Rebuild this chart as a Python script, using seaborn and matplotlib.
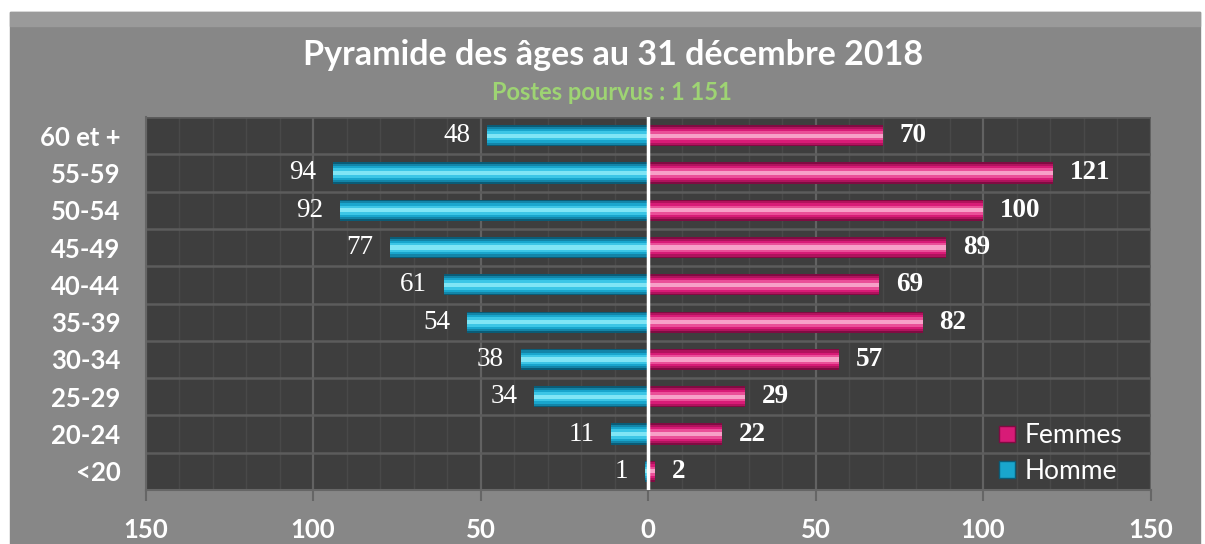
import matplotlib
matplotlib.use("Agg")
import matplotlib.pyplot as plt
from matplotlib.patches import Rectangle, Patch
from matplotlib.ticker import MultipleLocator, FixedLocator, FuncFormatter
import seaborn as sns

# Chart data
AGE_GROUPS = ["60 et +", "55-59", "50-54", "45-49", "40-44",
              "35-39", "30-34", "25-29", "20-24", "<20"]
HOMME = [48, 94, 92, 77, 61, 54, 38, 34, 11, 1]
FEMMES = [70, 121, 100, 89, 69, 82, 57, 29, 22, 2]
X_TICKS = [-150, -100, -50, 0, 50, 100, 150]
TITLE = "Pyramide des âges au 31 décembre 2018"
SUBTITLE = "Postes pourvus : 1 151"

# Styles
FRAME_GREY = "#878787"
PLOT_BG = "#3e3e3e"
BLUE_SHADES = ("#0a5c77", "#1385a8", "#19a6cd", "#3cc6e6", "#80e5f5")
PINK_SHADES = ("#800b42", "#b0135d", "#d81b77", "#ea4f98", "#f7a0c8")
LAYER_WIDTHS = (0.57, 0.48, 0.37, 0.25, 0.11)
SANS = "Lato"
SERIF = "Liberation Serif"


def draw_glossy_bars(ax, values, shades):
    """Stack bar layers of decreasing thickness to fake the glossy look."""
    for color, width in zip(shades, LAYER_WIDTHS):
        sns.barplot(x=values, y=AGE_GROUPS, order=AGE_GROUPS, orient="h",
                    color=color, width=width, saturation=1,
                    errorbar=None, ax=ax)


def plot_pyramid(output_file):
    fig = plt.figure(figsize=(12.05, 5.44), dpi=100)
    fig.patch.set_facecolor("white")

    # Grey chart frame with a light bevel on top
    fig.patches.append(Rectangle((10 / 1205, 0), 1190 / 1205, 532 / 544,
                                 transform=fig.transFigure, color=FRAME_GREY, zorder=-5))
    fig.patches.append(Rectangle((10 / 1205, 518 / 544), 1190 / 1205, 14 / 544,
                                 transform=fig.transFigure, color="#9a9a9a", zorder=-4))

    ax = fig.add_axes([145.5 / 1205, 54 / 544, 1005 / 1205, 373 / 544])
    ax.set_facecolor(PLOT_BG)
    ax.set_axisbelow(True)

    draw_glossy_bars(ax, [-v for v in HOMME], BLUE_SHADES)
    draw_glossy_bars(ax, FEMMES, PINK_SHADES)

    ax.axvline(0, color="white", lw=2.5, zorder=5)

    # Value labels
    for i, (h, f) in enumerate(zip(HOMME, FEMMES)):
        ax.text(-h - 5, i, str(h), ha="right", va="center", color="white",
                fontsize=19.5, family=SERIF)
        ax.text(f + 5, i, str(f), ha="left", va="center", color="white",
                fontsize=19.5, family=SERIF, fontweight="bold")

    # Axes and grid
    ax.set_xlim(-150, 150)
    ax.set_ylim(len(AGE_GROUPS) - 0.5, -0.5)
    ax.set_xticks(X_TICKS)
    ax.xaxis.set_major_formatter(FuncFormatter(lambda v, _: f"{abs(v):.0f}"))
    ax.xaxis.set_minor_locator(MultipleLocator(10))
    ax.yaxis.set_minor_locator(FixedLocator([i + 0.5 for i in range(-1, len(AGE_GROUPS))]))
    ax.grid(which="major", axis="x", color="#626262", lw=1.6)
    ax.grid(which="minor", axis="x", color="#494949", lw=1.0)
    ax.grid(which="minor", axis="y", color="#5c5c5c", lw=1.8)
    ax.tick_params(axis="x", which="major", length=8, width=1.5, color="#666666",
                   pad=12, labelsize=18.5, labelcolor="white")
    ax.tick_params(axis="x", which="minor", length=0)
    ax.tick_params(axis="y", which="both", length=0, pad=18, labelsize=18.5, labelcolor="white")
    for lab in ax.get_xticklabels() + ax.get_yticklabels():
        lab.set_family(SANS)
        lab.set_fontweight("bold")
    ax.set_xlabel("")
    ax.set_ylabel("")
    for side in ["top", "right"]:
        ax.spines[side].set_visible(False)
    ax.spines["left"].set_color("#666666")
    ax.spines["bottom"].set_color("#666666")
    ax.spines["left"].set_linewidth(1.5)
    ax.spines["bottom"].set_linewidth(1.5)

    # Legend
    handles = [Patch(facecolor=PINK_SHADES[2], edgecolor=PINK_SHADES[0], label="Femmes"),
               Patch(facecolor=BLUE_SHADES[2], edgecolor=BLUE_SHADES[0], label="Homme")]
    ax.legend(handles=handles, loc="lower left", bbox_to_anchor=(0.826, -0.047),
              frameon=False, handlelength=0.6, handleheight=0.6, handletextpad=0.35,
              labelspacing=0.4, prop={"family": SANS, "size": 19}, labelcolor="white")

    # Titles
    fig.text(613 / 1205, 1 - 55 / 544, TITLE, ha="center", va="center",
             color="white", fontsize=24.5, family=SANS, fontweight="bold")
    fig.text(612 / 1205, 1 - 92 / 544, SUBTITLE, ha="center", va="center",
             color="#9ed473", fontsize=17, family=SANS, fontweight="bold")

    fig.savefig(output_file, dpi=100)


plot_pyramid("out.png")
